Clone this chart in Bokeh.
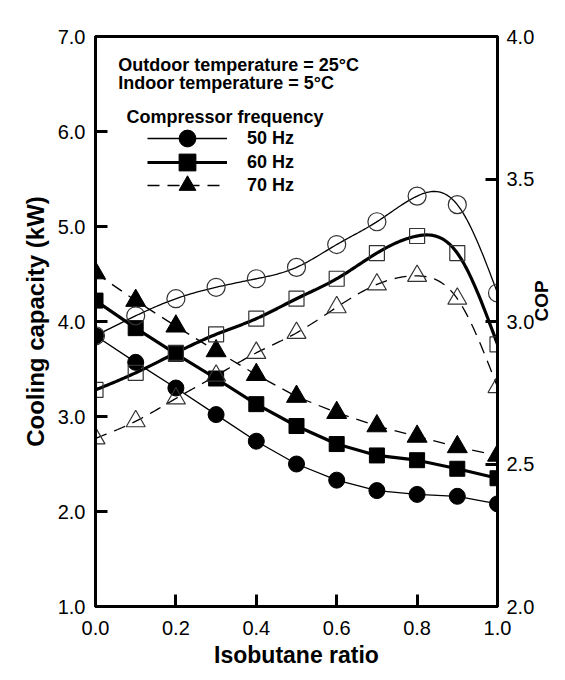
import numpy as np
from bokeh.plotting import figure
from bokeh.models import (Range1d, LinearAxis, FixedTicker, PrintfTickFormatter,
                          Label, Legend, LegendItem)
from bokeh.embed import file_html
from bokeh.resources import INLINE

# ---------------- data ----------------
ratio = [0.0, 0.1, 0.2, 0.3, 0.4, 0.5, 0.6, 0.7, 0.8, 0.9, 1.0]

# Cooling capacity (kW), left axis
cap_50 = [3.85, 3.57, 3.30, 3.02, 2.74, 2.50, 2.33, 2.22, 2.18, 2.16, 2.08]
cap_60 = [4.22, 3.93, 3.66, 3.40, 3.13, 2.90, 2.71, 2.59, 2.54, 2.45, 2.35]
cap_70 = [4.51, 4.22, 3.95, 3.69, 3.44, 3.21, 3.04, 2.90, 2.79, 2.68, 2.59]

# COP, right axis
cop_50 = [2.95, 3.02, 3.08, 3.12, 3.15, 3.19, 3.27, 3.35, 3.44, 3.41, 3.10]
cop_60 = [2.76, 2.82, 2.89, 2.955, 3.01, 3.08, 3.15, 3.24, 3.30, 3.24, 2.92]
cop_70 = [2.59, 2.65, 2.73, 2.81, 2.89, 2.96, 3.05, 3.13, 3.16, 3.08, 2.77]

x_ticks = [0.0, 0.2, 0.4, 0.6, 0.8, 1.0]
cap_ticks = [1.0, 2.0, 3.0, 4.0, 5.0, 6.0, 7.0]
cop_ticks = [2.0, 2.5, 3.0, 3.5, 4.0]

series_labels = ["50 Hz", "60 Hz", "70 Hz"]
FONT = "Liberation Sans"


def natural_spline(xs, ys, num=200):
    x = np.asarray(xs, float)
    y = np.asarray(ys, float)
    n = len(x)
    h = np.diff(x)
    A = np.zeros((n, n))
    b = np.zeros(n)
    A[0, 0] = 1.0
    A[-1, -1] = 1.0
    for i in range(1, n - 1):
        A[i, i - 1] = h[i - 1]
        A[i, i] = 2 * (h[i - 1] + h[i])
        A[i, i + 1] = h[i]
        b[i] = 6 * ((y[i + 1] - y[i]) / h[i] - (y[i] - y[i - 1]) / h[i - 1])
    M = np.linalg.solve(A, b)
    xx = np.linspace(x[0], x[-1], num)
    idx = np.clip(np.searchsorted(x, xx) - 1, 0, n - 2)
    x0 = x[idx]
    x1 = x[idx + 1]
    hh = x1 - x0
    t0 = x1 - xx
    t1 = xx - x0
    yy = (M[idx] * t0 ** 3 / (6 * hh) + M[idx + 1] * t1 ** 3 / (6 * hh)
          + (y[idx] / hh - M[idx] * hh / 6) * t0
          + (y[idx + 1] / hh - M[idx + 1] * hh / 6) * t1)
    return xx, yy


p = figure(width=565, frame_height=570,
           min_border_left=95, min_border_right=67,
           min_border_top=36, min_border_bottom=66,
           x_range=Range1d(0, 1), y_range=Range1d(1, 7),
           output_backend="svg", toolbar_location=None)
p.extra_y_ranges = {"cop": Range1d(2, 4)}
p.xgrid.visible = False
p.ygrid.visible = False
p.outline_line_color = "black"
p.outline_line_width = 3
p.outline_line_alpha = 1.0

right = LinearAxis(y_range_name="cop")
p.add_layout(right, "right")

for ax in [p.xaxis[0], p.yaxis[0], right]:
    ax.axis_line_width = 3
    ax.axis_line_color = "black"
    ax.major_tick_line_width = 3
    ax.major_tick_line_color = "black"
    ax.major_tick_in = 12
    ax.major_tick_out = 0
    ax.minor_tick_line_color = None
    ax.major_label_text_font = FONT
    ax.major_label_text_font_size = "20px"
    ax.major_label_text_color = "black"
    ax.axis_label_text_font = FONT
    ax.axis_label_text_font_style = "bold"
    ax.axis_label_text_color = "black"
    ax.formatter = PrintfTickFormatter(format="%.1f")

p.xaxis[0].ticker = FixedTicker(ticks=x_ticks)
p.yaxis[0].ticker = FixedTicker(ticks=cap_ticks)
right.ticker = FixedTicker(ticks=cop_ticks)

p.xaxis[0].axis_label = "Isobutane ratio"
p.xaxis[0].axis_label_text_font_size = "23px"
p.xaxis[0].major_label_standoff = 14
p.xaxis[0].axis_label_standoff = 4

p.yaxis[0].axis_label = "Cooling capacity (kW)"
p.yaxis[0].axis_label_text_font_size = "24px"
p.yaxis[0].major_label_standoff = 10
p.yaxis[0].axis_label_standoff = 6

right.axis_label = "COP"
right.axis_label_text_font_size = "19px"
right.major_label_standoff = 9
right.axis_label_standoff = 4
if "axis_label_orientation" in right.properties():
    right.axis_label_orientation = np.pi / 2

# ---------------- lines and markers ----------------
styles = [
    dict(line_width=1.3, line_dash="solid"),
    dict(line_width=3.2, line_dash="solid"),
    dict(line_width=1.3, line_dash="12 8"),
]
markers = ["circle", "square", "triangle"]
fill_sizes = [16, 15, 20]
open_sizes = [18, 15, 19]

caps = [cap_50, cap_60, cap_70]
cops = [cop_50, cop_60, cop_70]

line_rs = []
mark_rs = []
for cap, st in zip(caps, styles):
    line_rs.append(p.line(ratio, cap, line_color="black", **st))
for cop, st in zip(cops, styles):
    xx, yy = natural_spline(ratio, cop)
    p.line(xx, yy, line_color="black", y_range_name="cop", **st)

for cap, mk, sz in zip(caps, markers, fill_sizes):
    mark_rs.append(p.scatter(ratio, cap, marker=mk, size=sz,
                             fill_color="black", line_color="black"))
for cop, mk, sz in zip(cops, markers, open_sizes):
    p.scatter(ratio, cop, marker=mk, size=sz, fill_alpha=0.0,
              line_color="#333333", line_width=1.2, y_range_name="cop")

# ---------------- legend (one row per Legend, to control row pitch) --------
legend_vy = [447, 423, 400]
for lab, lr, mr, vy in zip(series_labels, line_rs, mark_rs, legend_vy):
    lg = Legend(items=[LegendItem(label=lab, renderers=[lr, mr])],
                location=(52, vy), glyph_width=80, glyph_height=42,
                label_height=20, padding=0, margin=0, border_line_color=None,
                background_fill_alpha=0.0, label_standoff=20,
                label_text_font=FONT, label_text_font_style="bold",
                label_text_font_size="18px", label_text_color="black")
    p.add_layout(lg)

for txt, x, y in [("Outdoor temperature = 25°C", 22.7, 542),
                  ("Indoor temperature = 5°C", 22.7, 524),
                  ("Compressor frequency", 31, 490)]:
    p.add_layout(Label(x=x, y=y, x_units="screen", y_units="screen", text=txt,
                       text_font=FONT, text_font_style="bold",
                       text_font_size="18px", text_color="black",
                       text_baseline="alphabetic"))

open("out.html", "w").write(file_html(p, INLINE))
